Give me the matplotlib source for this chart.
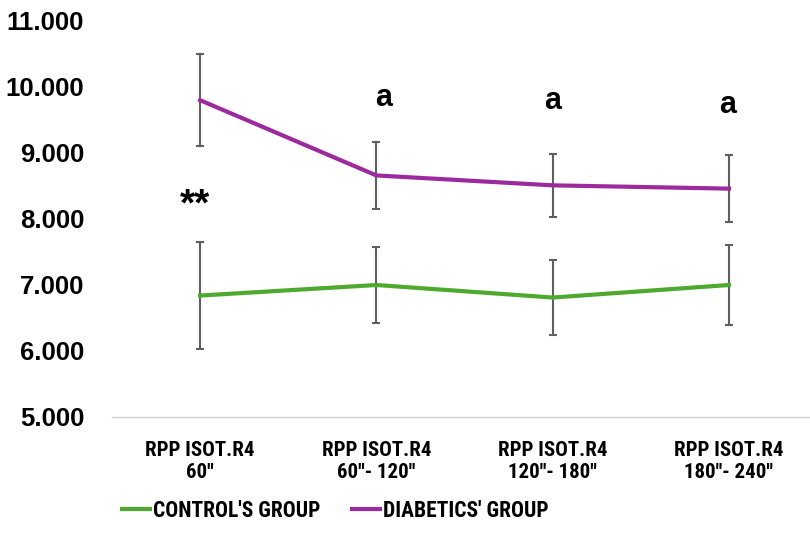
import matplotlib
matplotlib.use("Agg")
import matplotlib.pyplot as plt
from matplotlib import font_manager
from matplotlib.lines import Line2D

# chart data
categories = ["RPP ISOT.R4\n60''", "RPP ISOT.R4\n60''- 120''",
              "RPP ISOT.R4\n120''- 180''", "RPP ISOT.R4\n180''- 240''"]
control = [6.84, 7.00, 6.81, 7.00]
control_err = [0.81, 0.58, 0.57, 0.60]
diabetics = [9.80, 8.66, 8.51, 8.46]
diabetics_err = [0.70, 0.51, 0.48, 0.51]
y_ticks = [5, 6, 7, 8, 9, 10, 11]

# pick a condensed bold face for the category labels and legend
bold_names = {f.name for f in font_manager.fontManager.ttflist if f.weight in (700, "bold")}
narrow = "Liberation Sans"
for cand in ["Roboto Condensed", "Liberation Sans Narrow", "Fira Sans Condensed",
             "Encode Sans Semi Condensed", "Cabin Condensed"]:
    if cand in bold_names:
        narrow = cand
        break
plt.rcParams['font.family'] = ["Liberation Sans", "DejaVu Sans"]

green = "#4eaa2e"
purple = "#9c2a9e"
err_col = "#5f5f5f"

fig = plt.figure(figsize=(8.1, 5.42), dpi=100)
ax = fig.add_axes([112 / 810, 1 - 417 / 542, 1 - 112 / 810, (417 - 21) / 542])

x = list(range(len(categories)))
ax.errorbar(x, control, yerr=control_err, color=green, lw=3, ecolor=err_col,
            elinewidth=1.5, capsize=3, capthick=1.5, zorder=3)
ax.errorbar(x, diabetics, yerr=diabetics_err, color=purple, lw=3, ecolor=err_col,
            elinewidth=1.5, capsize=3, capthick=1.5, zorder=3)

ax.set_xlim(-0.5, 3.46)
ax.set_ylim(5, 11)
ax.set_yticks(y_ticks)
ax.set_yticklabels([f"{v}.000" for v in y_ticks], fontsize=18.5, fontweight="bold")
ax.set_xticks(x)
ax.set_xticklabels(categories, fontsize=15, fontweight="bold", family=narrow,
                   linespacing=1.2)
ax.tick_params(length=0, pad=17)
ax.tick_params(axis="y", pad=20)
for s in ["top", "right", "left"]:
    ax.spines[s].set_visible(False)
ax.spines["bottom"].set_color("#d0d0d0")
ax.spines["bottom"].set_linewidth(1)

# significance marks
ax.text(-0.03, 8.06, "**", ha="center", va="baseline", fontsize=28, fontweight="bold")
for xi, yi in [(1.04, 9.84), (2.0, 9.79), (2.99, 9.73)]:
    ax.text(xi, yi, "a", ha="center", va="center", fontsize=22, fontweight="bold")

handles = [Line2D([], [], color=green, lw=3), Line2D([], [], color=purple, lw=3)]
fig.legend(handles, ["CONTROL'S GROUP", "DIABETICS' GROUP"], loc="center left",
           bbox_to_anchor=(122 / 810, 1 - 511 / 542), ncol=2, borderpad=0, borderaxespad=0,
           frameon=False, handlelength=1.3, handletextpad=0.15, columnspacing=1.45,
           prop={"family": narrow, "weight": "bold", "size": 15.5})

fig.savefig("out.png", dpi=100)
